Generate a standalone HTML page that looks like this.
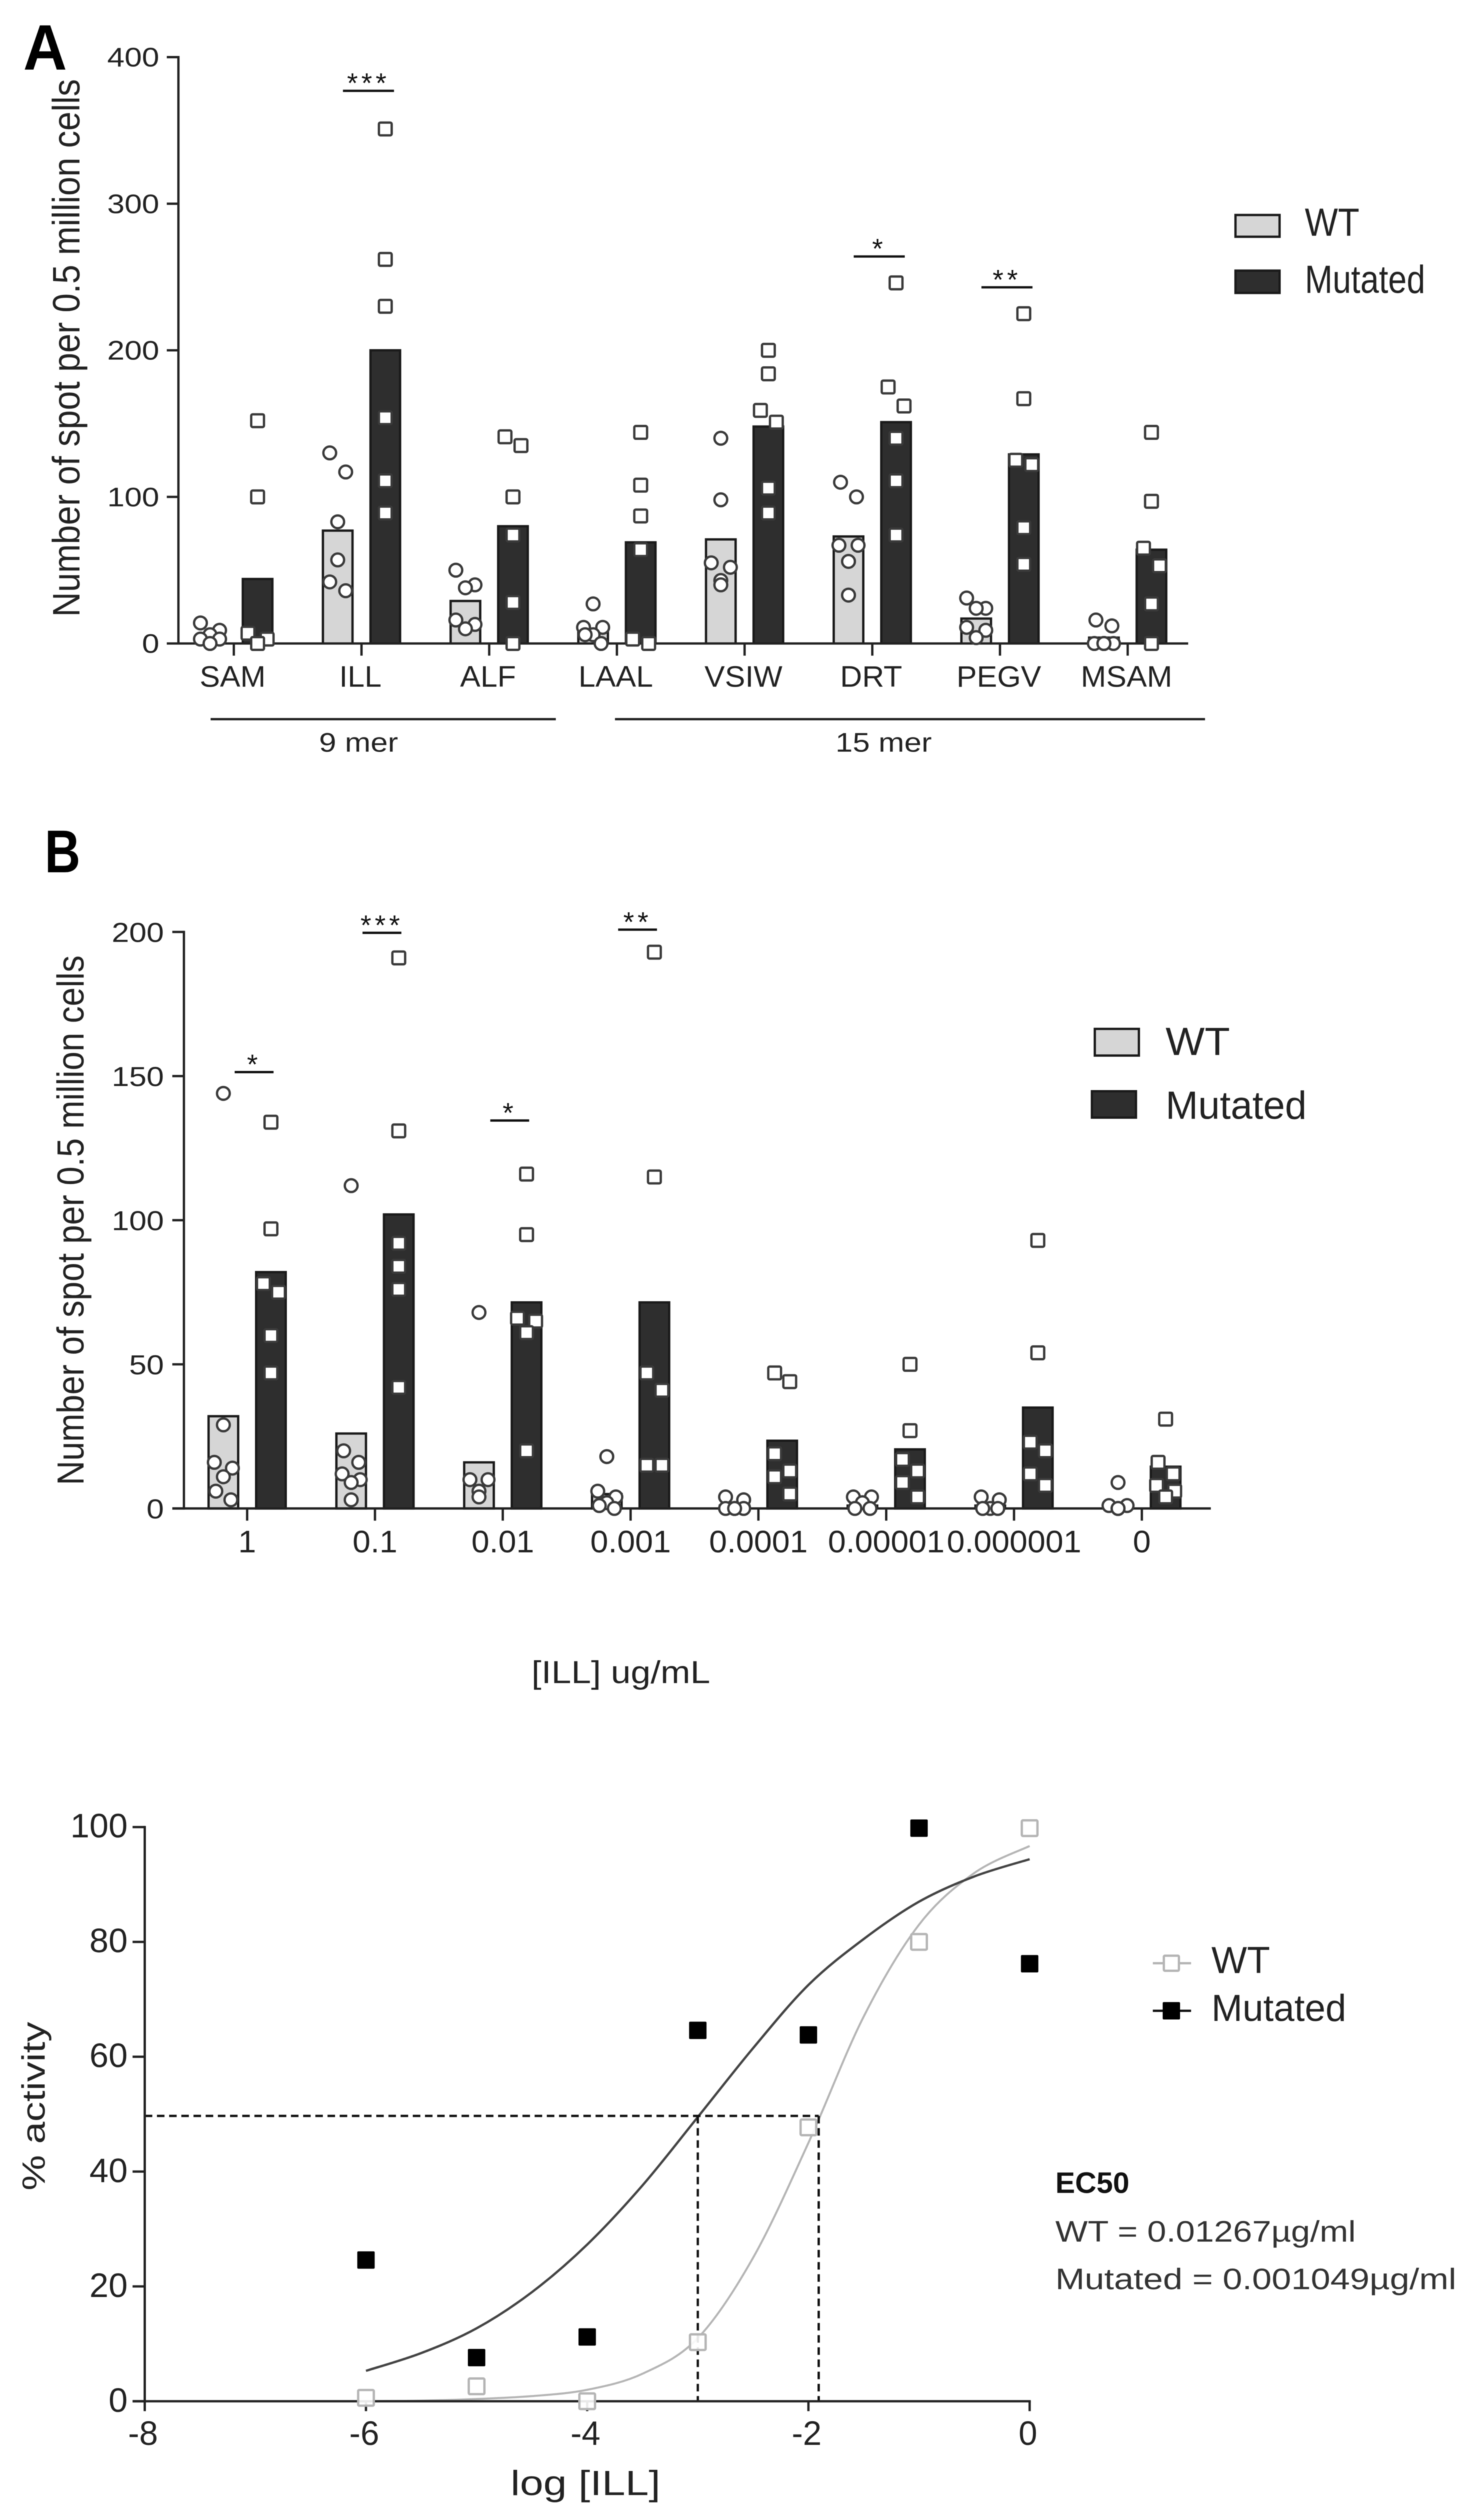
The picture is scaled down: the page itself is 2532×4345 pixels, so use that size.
<!DOCTYPE html>
<html lang="en">
<head>
<meta charset="utf-8">
<title>Spot counts and dose response for WT and Mutated peptides</title>
<style>
  html, body { margin: 0; padding: 0; background: #fff; }
  svg { display: block; filter: blur(0.9px); }
  text { font-family: "Liberation Sans", sans-serif; fill: #222; }
</style>
</head>
<body>
<svg id="fig" xmlns="http://www.w3.org/2000/svg" width="2532" height="4345" viewBox="0 0 2532 4345">
  <rect width="2532" height="4345" fill="#fff"/>

  <!-- Panel A -->
  <g id="panelA">
    <text transform="translate(40,120) scale(0.95,1)" font-size="110" font-weight="bold" style="fill:#000">A</text>
    <text transform="translate(137,600) rotate(-90) scale(0.9,1)" text-anchor="middle" font-size="66">Number of spot per 0.5 million cells</text>
    <line x1="363" x2="958" y1="1240" y2="1240" stroke="#222" stroke-width="4"/>
    <line x1="1060" x2="2077" y1="1240" y2="1240" stroke="#222" stroke-width="4"/>
    <text transform="translate(618,1296) scale(1.16,1)" text-anchor="middle" font-size="46">9 mer</text>
    <text transform="translate(1523,1296) scale(1.16,1)" text-anchor="middle" font-size="46">15 mer</text>
    <rect x="2129.5" y="370.7" width="76" height="37.5" fill="#d6d6d6" stroke="#1a1a1a" stroke-width="4"/>
    <rect x="2129.5" y="466.6" width="76" height="38.5" fill="#2e2e2e" stroke="#1a1a1a" stroke-width="4"/>
    <text transform="translate(2249,406.6) scale(0.89,1)" font-size="68">WT</text>
    <text transform="translate(2249,505) scale(0.845,1)" font-size="68">Mutated</text>
  </g>

  <!-- Panel B -->
  <g id="panelB">
    <text transform="translate(77,1504) scale(0.82,1)" font-size="104" font-weight="bold" style="fill:#000">B</text>
    <text transform="translate(144,2104) rotate(-90) scale(0.9,1)" text-anchor="middle" font-size="65">Number of spot per 0.5 million cells</text>
    <text transform="translate(916,2902) scale(1.12,1)" font-size="55">[ILL] ug/mL</text>
    <rect x="1887" y="1774" width="76" height="46" fill="#d6d6d6" stroke="#1a1a1a" stroke-width="4"/>
    <rect x="1882" y="1881.5" width="76" height="45.5" fill="#2e2e2e" stroke="#1a1a1a" stroke-width="4"/>
    <text transform="translate(2009,1819) scale(1.05,1)" font-size="68">WT</text>
    <text transform="translate(2009,1929) scale(0.99,1)" font-size="68">Mutated</text>
  </g>

  <!-- Panel C -->
  <g id="panelC">
    <text transform="translate(77,3631.5) rotate(-90) scale(1.23,1)" text-anchor="middle" font-size="56">% activity</text>
    <text transform="translate(880,4302) scale(1.21,1)" font-size="60">log [ILL]</text>
    <line x1="1987" x2="2053" y1="3385" y2="3385" stroke="#b5b5b5" stroke-width="4"/>
    <rect x="2006" y="3372" width="26" height="26" rx="2" fill="#fff" stroke="#b5b5b5" stroke-width="4"/>
    <line x1="1987" x2="2053" y1="3467" y2="3467" stroke="#111" stroke-width="4"/>
    <rect x="2004" y="3452" width="30" height="30" rx="2" fill="#000"/>
    <text transform="translate(2088,3402)" font-size="65">WT</text>
    <text transform="translate(2088,3484.6) scale(0.99,1)" font-size="65">Mutated</text>
    <text transform="translate(1819,3781)" font-size="51" font-weight="bold" style="fill:#111">EC50</text>
    <text transform="translate(1819,3865) scale(1.16,1)" font-size="51" style="fill:#333">WT = 0.01267µg/ml</text>
    <text transform="translate(1819,3947) scale(1.19,1)" font-size="51" style="fill:#333">Mutated = 0.001049µg/ml</text>
  </g>
</svg>

<script>
// ---------- Panel A data ----------
const categoriesA = ['SAM', 'ILL', 'ALF', 'LAAL', 'VSIW', 'DRT', 'PEGV', 'MSAM'];
const yTicksA = [0, 100, 200, 300, 400];
const meansWtA = [5, 77, 29, 9, 71, 73, 17, 4];
const meansMutA = [44, 200, 80, 69, 148, 151, 129, 64];
const pointsWtA = [
  [14, 9, 6, 3, 3, 0],
  [130, 117, 83, 57, 42, 36],
  [50, 40, 38, 16, 13, 10],
  [27, 11, 11, 6, 6, 0],
  [140, 98, 55, 52, 43, 40],
  [110, 100, 67, 67, 56, 33],
  [31, 24, 24, 11, 9, 4],
  [16, 12, 0, 0, 0, 0]
];
const pointsMutA = [
  [152, 100, 7, 3, 0, 0],
  [351, 262, 230, 154, 111, 89],
  [141, 135, 100, 74, 28, 0],
  [144, 108, 87, 64, 3, 0],
  [200, 184, 159, 151, 106, 89],
  [246, 175, 162, 140, 111, 74],
  [225, 167, 125, 122, 79, 54],
  [144, 97, 65, 53, 27, 0]
];
const sigCatsA = ['ILL', 'DRT', 'PEGV'];
const sigValuesA = [377, 264, 243];
const sigLabelsA = ['***', '*', '**'];

// ---------- Panel B data ----------
const categoriesB = ['1', '0.1', '0.01', '0.001', '0.0001', '0.00001', '0.000001', '0'];
const yTicksB = [0, 50, 100, 150, 200];
const meansWtB = [32, 26, 16, 5, 1, 1, 1, 1.5];
const meansMutB = [82, 102, 71.5, 71.5, 23.5, 20.5, 35, 14.5];
const pointsWtB = [
  [144, 29, 16, 14, 11, 6, 3],
  [112, 20, 16, 12, 10, 9, 3],
  [68, 10, 10, 6, 4],
  [18, 6, 4, 2, 1, 0],
  [4, 3, 0, 0, 0, 0],
  [4, 4, 2, 0, 0],
  [4, 3, 0, 0, 0],
  [9, 1, 1, 0, 0]
];
const pointsMutB = [
  [134, 97, 78, 75, 60, 47],
  [191, 131, 92, 84, 76, 42],
  [116, 95, 66, 65, 61, 20],
  [193, 115, 47, 41, 15, 15],
  [47, 44, 19, 13, 11, 5],
  [50, 27, 17, 13, 9, 4],
  [93, 54, 23, 20, 12, 8],
  [31, 16, 12, 8, 6, 4]
];
const sigCatsB = ['1', '0.1', '0.01', '0.001'];
const sigValuesB = [151.4, 199.7, 134.6, 200.8];
const sigLabelsB = ['*', '***', '*', '**'];

// ---------- Panel C data ----------
const yTicksC = [0, 20, 40, 60, 80, 100];
const xTicksC = [-8, -6, -4, -2, 0];
const doseLogC = [-6, -5, -4, -3, -2, -1, 0];
const activityWtC = [0.6, 2.6, 0, 10.3, 47.7, 80, 99.8];
const activityMutC = [24.6, 7.6, 11.2, 64.6, 63.8, 99.8, 76.2];
const curveLogC = [-6, -5.5, -5, -4.5, -4, -3.5, -3, -2.5, -2, -1.5, -1, -0.5, 0];
const curveWtC = [0, 0.1, 0.4, 0.9, 2, 4.8, 11, 25, 45, 67, 83, 92, 96.7];
const curveMutC = [5.3, 8.4, 12.7, 19, 27.3, 37.6, 49.5, 61.5, 72.5, 80.5, 87, 91.4, 94.4];
const ec50Level = 49.7;
const ec50LogMut = -3;
const ec50LogWt = -1.907;

// ---------- helpers ----------
const NS = 'http://www.w3.org/2000/svg';
function mk(parent, tag, attrs, txt) {
  const el = document.createElementNS(NS, tag);
  for (const k in attrs) el.setAttribute(k, attrs[k]);
  if (txt !== undefined) el.textContent = txt;
  parent.appendChild(el);
  return el;
}

// Prism-style column scatter: values within one bin height share a row.
function swarm(values, binPx, stepPx, pxPerUnit) {
  const sorted = values.slice().sort(function (a, b) { return b - a; });
  const out = [];
  let i = 0;
  while (i < sorted.length) {
    const bin = [sorted[i]];
    let j = i + 1;
    while (j < sorted.length && bin.length < 3 && (sorted[i] - sorted[j]) * pxPerUnit < binPx) {
      bin.push(sorted[j]);
      j++;
    }
    const pattern = bin.length === 1 ? [0] : bin.length === 2 ? [-0.5, 0.5] : [-0.6, 0.6, 0];
    bin.forEach(function (v, k) { out.push({ v: v, dx: pattern[k] * stepPx }); });
    i = j;
  }
  return out;
}

function drawBarPanel(cfg) {
  const g = cfg.g;
  const y = function (v) { return cfg.y0 - v * cfg.pxPerUnit; };
  const x = function (i) { return cfg.x0 + i * cfg.band; };

  // bars
  cfg.categories.forEach(function (cat, i) {
    [[cfg.meansWt[i], -41, '#d6d6d6'], [cfg.meansMut[i], 41, '#2e2e2e']].forEach(function (s) {
      const top = y(s[0]);
      const bar = mk(g, 'rect', { x: x(i) + s[1] - 25.5, y: top, width: 51, height: Math.max(cfg.y0 - top, 0), fill: s[2], stroke: '#1a1a1a', 'stroke-width': 4 });
      
      
    });
  });

  // axes
  const yAxis = mk(g, 'line', { x1: cfg.axisX, x2: cfg.axisX, y1: y(cfg.yTicks[cfg.yTicks.length - 1]) - 2, y2: cfg.y0 + 2, stroke: '#222', 'stroke-width': 4 });
  
  
  const xAxis = mk(g, 'line', { x1: cfg.axisX - 20, x2: cfg.axisEnd, y1: cfg.y0, y2: cfg.y0, stroke: '#222', 'stroke-width': 4 });
  
  

  cfg.yTicks.forEach(function (t) {
    const tick = mk(g, 'line', { x1: cfg.axisX - 20, x2: cfg.axisX, y1: y(t), y2: y(t), stroke: '#222', 'stroke-width': 4 });
    
    
    const lab = mk(g, 'text', { transform: 'translate(' + cfg.yLabelRight + ',' + (y(t) + cfg.yLabelDy) + ') scale(' + cfg.yLabelSx + ',1)', 'text-anchor': 'end', 'font-size': cfg.yLabelSize }, String(t));
    
    
  });

  cfg.categories.forEach(function (cat, i) {
    const tick = mk(g, 'line', { x1: x(i), x2: x(i), y1: cfg.y0, y2: cfg.y0 + 21, stroke: '#222', 'stroke-width': 4 });
    
    
    const lab = mk(g, 'text', { transform: 'translate(' + (x(i) + cfg.xLabelDx) + ',' + cfg.xLabelY + ') scale(' + cfg.xLabelSx + ',1)', 'text-anchor': 'middle', 'font-size': cfg.xLabelSize }, cat);
    
    
  });

  // points
  cfg.categories.forEach(function (cat, i) {
    swarm(cfg.pointsWt[i], cfg.binPx, cfg.stepPx, cfg.pxPerUnit).forEach(function (p) {
      const c = mk(g, 'circle', { cx: x(i) - 41 + p.dx, cy: y(p.v), r: cfg.r, fill: '#fff', stroke: '#3a3a3a', 'stroke-width': 4 });
      
      
    });
    swarm(cfg.pointsMut[i], cfg.binPx, cfg.stepPx, cfg.pxPerUnit).forEach(function (p) {
      const s = mk(g, 'rect', { x: x(i) + 41 + p.dx - cfg.r, y: y(p.v) - cfg.r, width: cfg.r * 2, height: cfg.r * 2, rx: 2.5, fill: '#fff', stroke: '#3a3a3a', 'stroke-width': 4 });
      
      
    });
  });

  // significance marks
  cfg.sigCats.forEach(function (cat, k) {
    const i = cfg.categories.indexOf(cat);
    const cx = x(i) + 12;
    const ly = y(cfg.sigValues[k]);
    const bar = mk(g, 'line', { x1: cx - cfg.sigHalf, x2: cx + cfg.sigHalf, y1: ly, y2: ly, stroke: '#111', 'stroke-width': 4 });
    
    
    const st = mk(g, 'text', { x: cx, y: ly + 3, 'text-anchor': 'middle', 'font-size': 48, 'letter-spacing': 6, style: 'fill:#111' }, cfg.sigLabels[k]);
    
    
  });
}

drawBarPanel({
  g: document.getElementById('panelA'),
  categories: categoriesA, yTicks: yTicksA,
  meansWt: meansWtA, meansMut: meansMutA, pointsWt: pointsWtA, pointsMut: pointsMutA,
  sigCats: sigCatsA, sigValues: sigValuesA, sigLabels: sigLabelsA, sigHalf: 44,
  x0: 403, band: 220.1, y0: 1109.5, pxPerUnit: 2.5275,
  axisX: 307.5, axisEnd: 2048,
  yLabelRight: 274.5, yLabelDy: 16, yLabelSx: 1.17, yLabelSize: 46,
  xLabelY: 1184, xLabelDx: -2, xLabelSx: 1.03, xLabelSize: 51,
  r: 11, binPx: 36, stepPx: 27.5
});

drawBarPanel({
  g: document.getElementById('panelB'),
  categories: categoriesB, yTicks: yTicksB,
  meansWt: meansWtB, meansMut: meansMutB, pointsWt: pointsWtB, pointsMut: pointsMutB,
  sigCats: sigCatsB, sigValues: sigValuesB, sigLabels: sigLabelsB, sigHalf: 33.5,
  x0: 426, band: 220.3, y0: 2600.9, pxPerUnit: 4.97,
  axisX: 317, axisEnd: 2087,
  yLabelRight: 282.6, yLabelDy: 17, yLabelSx: 1.15, yLabelSize: 47,
  xLabelY: 2676.5, xLabelDx: 0, xLabelSx: 1.03, xLabelSize: 54,
  r: 11, binPx: 35, stepPx: 26
});

// ---------- Panel C ----------
(function () {
  const g = document.getElementById('panelC');
  const X = function (v) { return 1774.7 + v * 190.65; };
  const Y = function (v) { return 4140.3 - v * 9.901; };

  function curvePath(xs, ys) {
    const pts = xs.map(function (v, i) { return [X(v), Y(ys[i])]; });
    let d = 'M' + pts[0][0] + ' ' + pts[0][1];
    for (let i = 0; i < pts.length - 1; i++) {
      const p0 = pts[Math.max(i - 1, 0)], p1 = pts[i], p2 = pts[i + 1], p3 = pts[Math.min(i + 2, pts.length - 1)];
      d += ' C' + (p1[0] + (p2[0] - p0[0]) / 6) + ' ' + (p1[1] + (p2[1] - p0[1]) / 6) + ' ' +
           (p2[0] - (p3[0] - p1[0]) / 6) + ' ' + (p2[1] - (p3[1] - p1[1]) / 6) + ' ' + p2[0] + ' ' + p2[1];
    }
    return d;
  }

  const wtCurve = mk(g, 'path', { d: curvePath(curveLogC, curveWtC), fill: 'none', stroke: '#b5b5b5', 'stroke-width': 3.5 });
  
  
  const mutCurve = mk(g, 'path', { d: curvePath(curveLogC, curveMutC), fill: 'none', stroke: '#444', 'stroke-width': 4 });
  
  

  const dashH = mk(g, 'line', { x1: X(-8), x2: X(ec50LogWt), y1: Y(ec50Level), y2: Y(ec50Level), stroke: '#111', 'stroke-width': 4, 'stroke-dasharray': '13 8' });
  
  
  const dashM = mk(g, 'line', { x1: X(ec50LogMut), x2: X(ec50LogMut), y1: Y(ec50Level), y2: Y(0), stroke: '#111', 'stroke-width': 4, 'stroke-dasharray': '13 8' });
  
  
  const dashW = mk(g, 'line', { x1: X(ec50LogWt), x2: X(ec50LogWt), y1: Y(ec50Level), y2: Y(0), stroke: '#111', 'stroke-width': 4, 'stroke-dasharray': '13 8' });
  
  

  const yAxis = mk(g, 'line', { x1: X(-8), x2: X(-8), y1: Y(100) - 2, y2: Y(0) + 2, stroke: '#222', 'stroke-width': 4 });
  
  
  const xAxis = mk(g, 'line', { x1: X(-8) - 21, x2: X(0) + 2, y1: Y(0), y2: Y(0), stroke: '#222', 'stroke-width': 4 });
  
  

  yTicksC.forEach(function (t) {
    const tick = mk(g, 'line', { x1: X(-8) - 21, x2: X(-8), y1: Y(t), y2: Y(t), stroke: '#222', 'stroke-width': 4 });
    
    
    const lab = mk(g, 'text', { transform: 'translate(220,' + (Y(t) + 18) + ') scale(1.02,1)', 'text-anchor': 'end', 'font-size': 58 }, String(t));
    
    
  });
  xTicksC.forEach(function (t) {
    const tick = mk(g, 'line', { x1: X(t), x2: X(t), y1: Y(0), y2: Y(0) + 17, stroke: '#222', 'stroke-width': 4 });
    
    
    const lab = mk(g, 'text', { transform: 'translate(' + (X(t) - 3) + ',4215.7)', 'text-anchor': 'middle', 'font-size': 58 }, String(t));
    
    
  });

  doseLogC.forEach(function (d, i) {
    const w = mk(g, 'rect', { x: X(d) - 13.5, y: Y(activityWtC[i]) - 13.5, width: 27, height: 27, rx: 2, fill: '#fff', 'fill-opacity': 0.9, stroke: '#b5b5b5', 'stroke-width': 4 });
    
    
  });
  doseLogC.forEach(function (d, i) {
    const m = mk(g, 'rect', { x: X(d) - 15, y: Y(activityMutC[i]) - 15, width: 30, height: 30, rx: 2, fill: '#000' });
    
    
  });
})();
</script>
</body>
</html>
